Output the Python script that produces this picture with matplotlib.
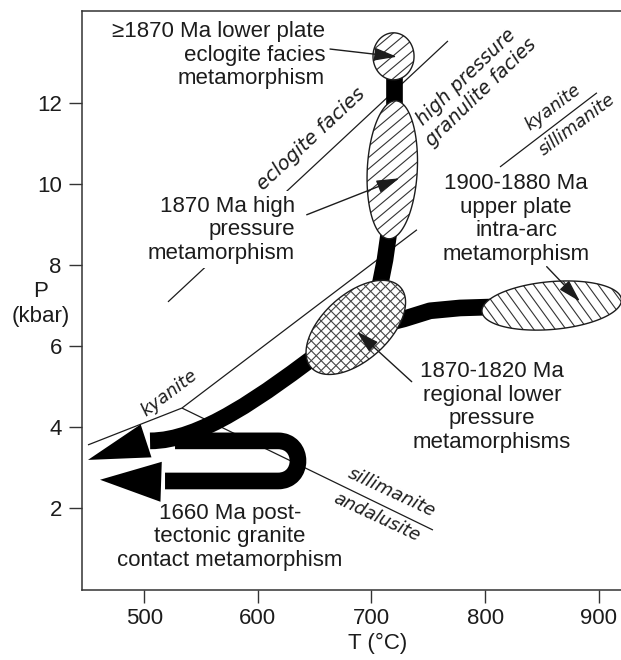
import numpy as np
import matplotlib
matplotlib.use("Agg")
import matplotlib.pyplot as plt
from matplotlib.path import Path
from matplotlib.patches import PathPatch, Polygon

plt.rcParams["font.family"] = ["Liberation Sans", "DejaVu Sans"]

# ---------------- data (T in °C, P in kbar) ----------------
T_LIM = (445.2, 919.6)
P_LIM = (-0.03, 14.26)
x_ticks = [500, 600, 700, 800, 900]
y_ticks = [2, 4, 6, 8, 10, 12]

# facies / Al2SiO5 boundaries
eclogite_T = [520.9, 767.3]
eclogite_P = [7.08, 13.52]
ky_sil_low_T = [533.2, 740.0]
ky_sil_low_P = [4.46, 8.86]
ky_sil_high_T = [813.1, 898.4]
ky_sil_high_P = [10.41, 12.24]
ky_and_T = [450.5, 533.2]
ky_and_P = [3.55, 4.46]
sil_and_T = [533.2, 754.1]
sil_and_P = [4.46, 1.45]

# metamorphic fields (ellipses)
field_T = [719.4, 718.3, 686.2, 858.6]
field_P = [13.14, 10.34, 6.45, 6.99]
field_w = [36.1, 44.0, 105.6, 123.2]      # °C
field_h = [1.16, 3.41, 1.63, 1.18]        # kbar
field_tilt = [0, -3, 42, 5]               # degrees
field_hatch = [[40], [40], [45, -45], [-54]]

# P-T path segments
path_a_T = [720.0, 720.0]
path_a_P = [13.14, 10.34]
path_b_T = [718.0, 716.3, 711.9, 703.1]
path_b_P = [9.60, 8.98, 8.12, 6.88]
path_c_T = [707.5, 728.6, 751.5, 777.9, 813.1]
path_c_P = [6.51, 6.66, 6.86, 6.93, 6.96]
path_d_T = [663.5, 601.9, 549.1, 505.1]
path_d_P = [6.02, 4.71, 3.65, 3.65]
loop_T = [527.1, 617.7, 641.2, 641.2, 617.7, 518.3]
loop_P = [3.65, 3.65, 3.65, 2.66, 2.66, 2.66]
head_back_T = [501.6, 514.8]
head_back_P = [3.65, 2.64]
head_tip_T = [450.5, 461.1]
head_tip_P = [3.18, 2.69]

# annotation arrows
note_start_T = [663.5, 643.0, 854.2, 735.4]
note_start_P = [13.32, 9.23, 7.95, 5.11]
note_tip_T = [722.4, 724.5, 883.5, 687.0]
note_tip_P = [13.13, 10.13, 7.09, 6.35]

labels = ["\u22651870 Ma lower plate\neclogite facies\nmetamorphism",
          "1870 Ma high\npressure\nmetamorphism",
          "1900-1880 Ma\nupper plate\nintra-arc\nmetamorphism",
          "1870-1820 Ma\nregional lower\npressure\nmetamorphisms",
          "1660 Ma post-\ntectonic granite\ncontact metamorphism"]
label_T = [659.1, 632.7, 827.2, 806.0, 575.5]
label_P = [13.17, 8.86, 9.13, 4.49, 1.28]
label_ha = ["right", "right", "center", "center", "center"]

facies_labels = ["eclogite facies", "high pressure\ngranulite facies",
                 "kyanite", "sillimanite", "kyanite", "sillimanite", "andalusite"]
facies_T = [646.8, 790.0, 859.6, 881.0, 521.8, 718.0, 704.8]
facies_P = [11.10, 12.44, 11.89, 11.46, 4.82, 2.37, 1.77]
facies_rot = [43, 44, 37, 37, 37, -25, -25]
facies_size = [14, 13.6, 12.6, 12.8, 12.8, 13.2, 13.0]

# ---------------- figure ----------------
fig = plt.figure(figsize=(6.21, 6.60), dpi=100)
ax = fig.add_axes([0.1320, 0.1061, 0.8680, 0.8773])
ax.set_xlim(*T_LIM)
ax.set_ylim(*P_LIM)

INK = "#1c1c1c"
for s in ["top", "left", "bottom"]:
    ax.spines[s].set_color("#333333")
    ax.spines[s].set_linewidth(1.1)
ax.spines["right"].set_visible(False)
ax.set_xticks(x_ticks)
ax.set_yticks(y_ticks)
ax.tick_params(axis="both", direction="out", length=9.5, width=1.0, color="#333333",
               labelsize=16, labelcolor=INK)
ax.tick_params(axis="y", pad=5)
ax.tick_params(axis="x", pad=3.5)
ax.set_xlabel("T (\u00b0C)", fontsize=16, color=INK, va="center")
ax.xaxis.set_label_coords(0.549, -0.0915)
ax.set_ylabel("P\n(kbar)", fontsize=16, color=INK, rotation=0, ha="center", va="center",
              linespacing=1.2)
ax.yaxis.set_label_coords(-0.076, 0.494)

# boundaries
for tt, pp in [(eclogite_T, eclogite_P), (ky_sil_low_T, ky_sil_low_P),
               (ky_sil_high_T, ky_sil_high_P), (ky_and_T, ky_and_P), (sil_and_T, sil_and_P)]:
    ax.plot(tt, pp, color=INK, lw=0.9, zorder=2, solid_capstyle="butt")

# thick P-T paths
LW = 12
M, L, C = Path.MOVETO, Path.LINETO, Path.CURVE4


def stroke(tt, pp, codes):
    ax.add_patch(PathPatch(Path(np.column_stack([tt, pp]), codes), facecolor="none",
                           edgecolor="black", lw=LW, capstyle="butt", joinstyle="round",
                           zorder=2.5))


stroke(path_a_T, path_a_P, [M, L])
stroke(path_b_T, path_b_P, [M] + [L] * (len(path_b_T) - 1))
stroke(path_c_T, path_c_P, [M] + [L] * (len(path_c_T) - 1))
stroke(path_d_T, path_d_P, [M, C, C, C])
stroke(loop_T, loop_P, [M, L, C, C, C, L])

head_sizes = [(44, 12.5), (44, 14.4)]
for i in range(2):
    hl, hw = head_sizes[i]
    ax.annotate("", xy=(head_tip_T[i], head_tip_P[i]), xytext=(head_back_T[i], head_back_P[i]),
                arrowprops=dict(arrowstyle=f"-|>,head_length={hl},head_width={hw}",
                                mutation_scale=1, lw=0, color="black",
                                shrinkA=0, shrinkB=0), zorder=2.6)

# ellipses with hatching
sx = ax.transData.transform((1, 0))[0] - ax.transData.transform((0, 0))[0]
sy = ax.transData.transform((0, 1))[1] - ax.transData.transform((0, 0))[1]
for i in range(len(field_T)):
    a = field_w[i] / 2 * sx
    b = field_h[i] / 2 * sy
    th = np.radians(field_tilt[i])
    t = np.linspace(0, 2 * np.pi, 300)
    u, v = a * np.cos(t), b * np.sin(t)
    xp = u * np.cos(th) - v * np.sin(th)
    yp = u * np.sin(th) + v * np.cos(th)
    poly = np.column_stack([field_T[i] + xp / sx, field_P[i] + yp / sy])
    fill = Polygon(poly, closed=True, facecolor="white", edgecolor="none", zorder=3)
    ax.add_patch(fill)
    R = max(a, b) + 2
    cross = len(field_hatch[i]) > 1
    spacing = 7.0 if cross else 8.7
    hcol = "#444444" if cross else "#333333"
    for ang in field_hatch[i]:
        ph = np.radians(ang)
        d = np.array([np.cos(ph), np.sin(ph)])
        nv = np.array([-np.sin(ph), np.cos(ph)])
        for k in np.arange(-R, R, spacing):
            p0 = k * nv - R * d
            p1 = k * nv + R * d
            ln, = ax.plot([field_T[i] + p0[0] / sx, field_T[i] + p1[0] / sx],
                          [field_P[i] + p0[1] / sy, field_P[i] + p1[1] / sy],
                          color=hcol, lw=0.8, zorder=3.2)
            ln.set_clip_path(fill)
    ax.add_patch(Polygon(poly, closed=True, facecolor="none", edgecolor=INK, lw=1.0, zorder=3.4))

# annotation arrows
for i in range(len(note_tip_T)):
    ax.annotate("", xy=(note_tip_T[i], note_tip_P[i]), xytext=(note_start_T[i], note_start_P[i]),
                arrowprops=dict(arrowstyle="-|>,head_length=14,head_width=4",
                                mutation_scale=1, lw=1.0, color=INK,
                                shrinkA=0, shrinkB=0), zorder=5)

# main labels
for i, txt in enumerate(labels):
    kw = {}
    if i == 1:
        kw["bbox"] = dict(facecolor="white", edgecolor="none", pad=3)
    ax.text(label_T[i], label_P[i], txt, ha=label_ha[i], va="center",
            multialignment=label_ha[i], fontsize=16, color=INK, linespacing=1.16,
            zorder=6, **kw)

# facies labels
for i, txt in enumerate(facies_labels):
    ax.text(facies_T[i], facies_P[i], txt, ha="center", va="center", rotation=facies_rot[i],
            rotation_mode="anchor", fontsize=facies_size[i], family="DejaVu Sans",
            style="oblique", color=INK, linespacing=1.15, zorder=6)

fig.savefig("out.png", dpi=100)
